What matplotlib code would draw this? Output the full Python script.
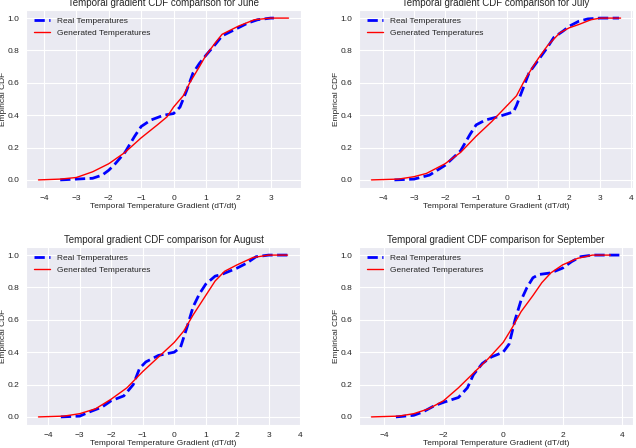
import matplotlib
matplotlib.use("Agg")
import matplotlib.pyplot as plt
import seaborn as sns

sns.set_style("darkgrid")
plt.rcParams['font.family'] = ['Liberation Sans', 'DejaVu Sans']

months = ["June", "July", "August", "September"]

june_real_x = [-3.5, -3.0, -2.5, -2.2, -2.0, -1.8, -1.5, -1.2, -1.0, -0.7, -0.3, 0.0, 0.2, 0.4, 0.6, 0.8, 1.0, 1.3, 1.5, 1.8, 2.0, 2.3, 2.6, 3.0, 3.1]
june_real_y = [0.0, 0.005, 0.01, 0.03, 0.06, 0.10, 0.17, 0.27, 0.33, 0.37, 0.40, 0.41, 0.45, 0.55, 0.66, 0.72, 0.77, 0.84, 0.89, 0.92, 0.94, 0.97, 0.99, 1.0, 1.0]
june_gen_x = [-4.17, -3.5, -3.0, -2.5, -2.0, -1.5, -1.0, -0.5, -0.2, 0.0, 0.3, 0.5, 0.8, 1.0, 1.3, 1.5, 2.0, 2.5, 3.0, 3.55]
june_gen_y = [0.0, 0.005, 0.015, 0.05, 0.10, 0.17, 0.26, 0.34, 0.39, 0.45, 0.52, 0.60, 0.70, 0.77, 0.85, 0.90, 0.95, 0.99, 1.0, 1.0]

july_real_x = [-3.63, -3.0, -2.5, -2.0, -1.5, -1.2, -1.0, -0.7, -0.3, 0.2, 0.3, 0.5, 0.7, 1.0, 1.3, 1.5, 1.8, 2.0, 2.3, 2.6, 3.0, 3.6]
july_real_y = [0.0, 0.005, 0.03, 0.09, 0.18, 0.28, 0.34, 0.37, 0.39, 0.42, 0.46, 0.56, 0.66, 0.74, 0.82, 0.88, 0.92, 0.95, 0.98, 0.995, 1.0, 1.0]
july_gen_x = [-4.37, -3.5, -3.0, -2.6, -2.0, -1.5, -1.0, -0.5, 0.0, 0.3, 0.6, 1.0, 1.3, 1.7, 2.0, 2.3, 2.7, 3.0, 3.65]
july_gen_y = [0.0, 0.005, 0.02, 0.04, 0.10, 0.17, 0.27, 0.36, 0.46, 0.52, 0.63, 0.75, 0.83, 0.91, 0.94, 0.96, 0.99, 1.0, 1.0]

aug_real_x = [-3.6, -3.0, -2.7, -2.3, -2.0, -1.6, -1.3, -1.1, -0.9, -0.5, 0.0, 0.2, 0.4, 0.6, 0.8, 1.0, 1.3, 1.5, 2.0, 2.3, 2.6, 3.0, 3.63]
aug_real_y = [0.0, 0.005, 0.03, 0.06, 0.10, 0.13, 0.20, 0.30, 0.34, 0.38, 0.40, 0.43, 0.55, 0.68, 0.76, 0.82, 0.87, 0.88, 0.92, 0.95, 0.99, 1.0, 1.0]
aug_gen_x = [-4.31, -3.5, -3.0, -2.5, -2.0, -1.5, -1.0, -0.5, 0.0, 0.3, 0.6, 1.0, 1.3, 1.6, 2.0, 2.5, 3.0, 3.6]
aug_gen_y = [0.0, 0.005, 0.02, 0.05, 0.11, 0.18, 0.28, 0.37, 0.46, 0.53, 0.63, 0.75, 0.84, 0.90, 0.94, 0.985, 1.0, 1.0]

sep_real_x = [-3.6, -3.0, -2.7, -2.3, -2.0, -1.5, -1.2, -1.0, -0.7, -0.4, 0.0, 0.2, 0.4, 0.6, 0.8, 1.0, 1.2, 1.6, 2.0, 2.3, 2.6, 3.0, 3.94]
sep_real_y = [0.0, 0.01, 0.03, 0.07, 0.09, 0.12, 0.18, 0.26, 0.33, 0.37, 0.40, 0.45, 0.60, 0.72, 0.80, 0.86, 0.88, 0.89, 0.92, 0.96, 0.99, 1.0, 1.0]
sep_gen_x = [-4.42, -3.5, -3.0, -2.5, -2.0, -1.5, -1.0, -0.5, 0.0, 0.3, 0.6, 1.0, 1.3, 1.6, 2.0, 2.5, 3.0, 3.6]
sep_gen_y = [0.0, 0.005, 0.02, 0.05, 0.10, 0.18, 0.27, 0.36, 0.46, 0.55, 0.65, 0.75, 0.83, 0.89, 0.94, 0.98, 1.0, 1.0]

real_x = [june_real_x, july_real_x, aug_real_x, sep_real_x]
real_y = [june_real_y, july_real_y, aug_real_y, sep_real_y]
gen_x = [june_gen_x, july_gen_x, aug_gen_x, sep_gen_x]
gen_y = [june_gen_y, july_gen_y, aug_gen_y, sep_gen_y]

W, H = 636, 448
fig = plt.figure(figsize=(W / 100, H / 100), dpi=100)
boxes = [(26, 10, 301, 188), (359, 10, 633, 188), (26, 247, 301, 425), (359, 247, 633, 425)]
for i, (x0, y0, x1, y1) in enumerate(boxes):
    ax = fig.add_axes([x0 / W, 1 - y1 / H, (x1 - x0) / W, (y1 - y0) / H])
    ax.plot(real_x[i], real_y[i], color='blue', linestyle='--', linewidth=2, label='Real Temperatures')
    ax.plot(gen_x[i], gen_y[i], color='red', linewidth=1, label='Generated Temperatures')
    ax.set_title(f'Temporal gradient CDF comparison for {months[i]}', fontsize=7, pad=3)
    ax.set_xlabel('Temporal Temperature Gradient (dT/dt)', fontsize=6, labelpad=1)
    ax.set_ylabel('Empirical CDF', fontsize=6, labelpad=0)
    ax.tick_params(labelsize=6, pad=1.5)
    ax.legend(loc='upper left', fontsize=6, frameon=False)

fig.savefig('out.png', dpi=100)
